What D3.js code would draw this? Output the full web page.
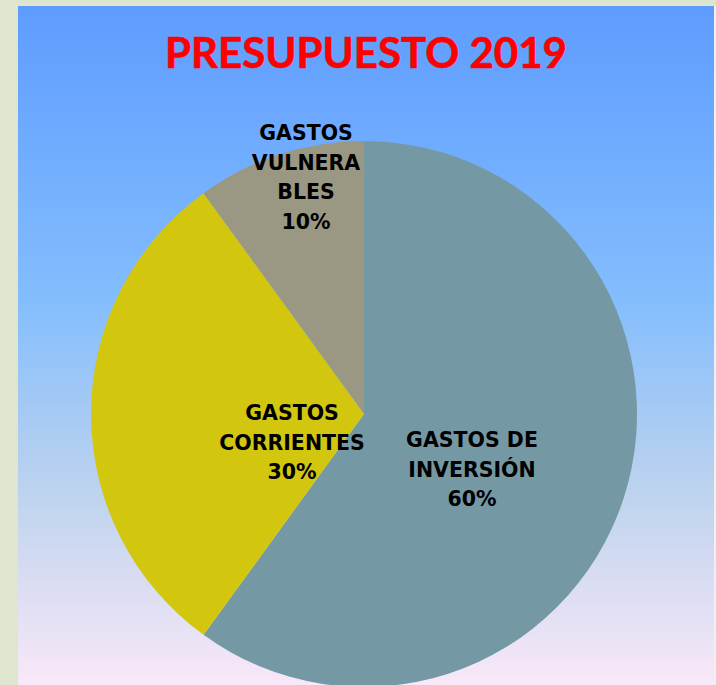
<!DOCTYPE html>
<html>
<head>
<meta charset="utf-8">
<script src="https://cdn.jsdelivr.net/npm/d3@7"></script>
<style>
  body { margin: 0; background: #dfe6cf; }
  svg { display: block; }
</style>
</head>
<body>
<script>
// data
var categories = ['GASTOS DE INVERSIÓN', 'GASTOS CORRIENTES', 'GASTOS VULNERABLES'];
var values = [60, 30, 10];
// label lines as they wrap in the picture
var labelLines = [
  ['GASTOS DE', 'INVERSIÓN', '60%'],
  ['GASTOS', 'CORRIENTES', '30%'],
  ['GASTOS', 'VULNERA', 'BLES', '10%']
];
var colors = ['#7499a5', '#d2c70e', '#9a9882'];

var W = 716, H = 685;
var svg = d3.select('body').append('svg').attr('width', W).attr('height', H);

var defs = svg.append('defs');
var grad = defs.append('linearGradient').attr('id', 'bg').attr('x1', 0).attr('y1', 0).attr('x2', 0).attr('y2', 1);
grad.append('stop').attr('offset', '0%').attr('stop-color', '#5e9cff');
grad.append('stop').attr('offset', '43%').attr('stop-color', '#83bdfd');
grad.append('stop').attr('offset', '72%').attr('stop-color', '#bed3ee');
grad.append('stop').attr('offset', '100%').attr('stop-color', '#f9e8f8');

// panel
svg.append('rect').attr('x', 18).attr('y', 6).attr('width', 696).attr('height', H - 6).attr('fill', 'url(#bg)');
svg.append('rect').attr('x', 714).attr('y', 6).attr('width', 2).attr('height', H - 6).attr('fill', '#eef0f4');

// title
svg.append('text')
  .attr('x', 366).attr('y', 68)
  .attr('text-anchor', 'middle')
  .attr('font-family', 'Lato, "Open Sans", sans-serif')
  .attr('font-weight', 'bold')
  .attr('font-size', 42)
  .attr('fill', '#ff0000')
  .attr('stroke', '#ff0000').attr('stroke-width', 0.6)
  .attr('textLength', 402).attr('lengthAdjust', 'spacingAndGlyphs')
  .text('PRESUPUESTO 2019');

// pie
var cx = 364, cy = 414, r = 273;
var pie = d3.pie().sort(null).value(function (d) { return d; });
var arc = d3.arc().innerRadius(0).outerRadius(r);
var arcs = pie(values);

var g = svg.append('g').attr('transform', 'translate(' + cx + ',' + cy + ')');
g.selectAll('path').data(arcs).enter().append('path')
  .attr('d', arc)
  .attr('fill', function (d, i) { return colors[i]; });

// label centres (picture positions relative to centre)
var labelPos = [[108, 33], [-72, 6], [-58, -274]];
var lineH = 29.5;
var labels = g.selectAll('text.lbl').data(arcs).enter().append('text')
  .attr('class', 'lbl')
  .attr('text-anchor', 'middle')
  .attr('font-family', '"DejaVu Sans", sans-serif')
  .attr('font-weight', 'bold')
  .attr('font-size', 20.5)
  .attr('fill', '#000');
labels.each(function (d, i) {
  var t = d3.select(this);
  labelLines[i].forEach(function (s, j) {
    t.append('tspan')
      .attr('x', labelPos[i][0])
      .attr('y', labelPos[i][1] + j * lineH)
      .text(s);
  });
});
</script>
</body>
</html>
